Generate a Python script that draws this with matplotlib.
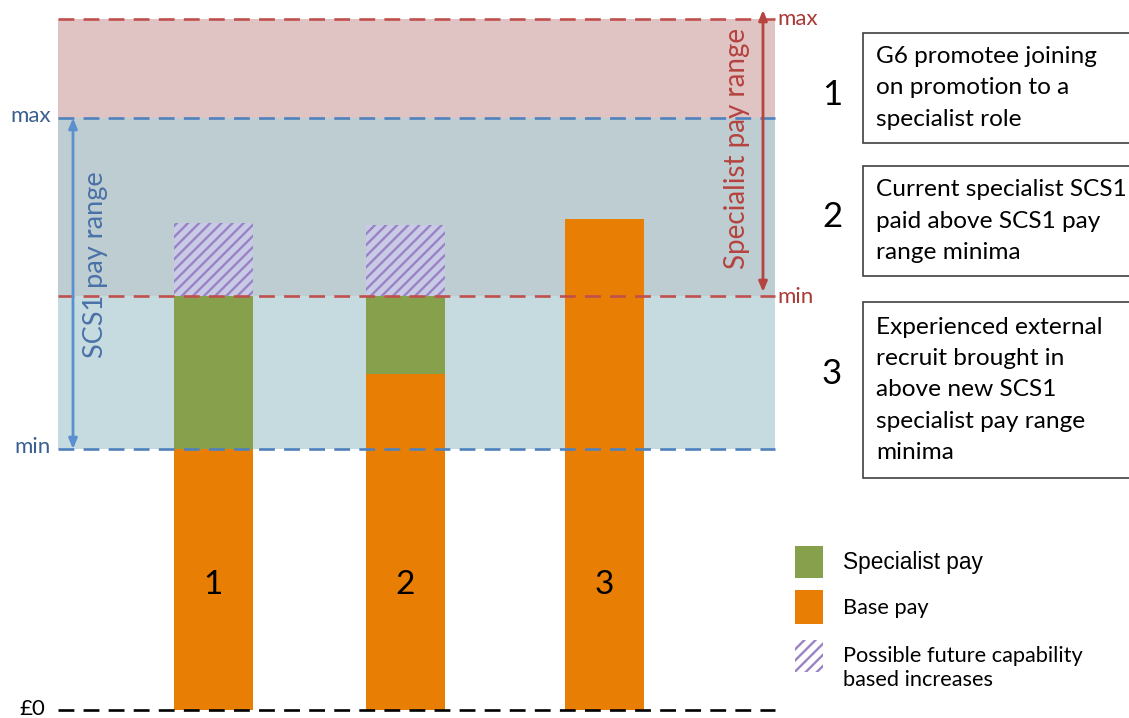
import matplotlib

matplotlib.use('Agg')
import matplotlib.pyplot as plt
from matplotlib.patches import Rectangle

# pay levels, measured upwards from £0
scs1_min = 261
scs1_max = 592
spec_min = 414
spec_max = 691

bar_labels = ['1', '2', '3']
base_pay = [261, 336, 491]
specialist_pay = [153, 78, 0]
future_increase = [73, 71, 0]

case_texts = [
    'G6 promotee joining\non promotion to a\nspecialist role',
    'Current specialist SCS1\npaid above SCS1 pay\nrange minima',
    'Experienced external\nrecruit brought in\nabove new SCS1\nspecialist pay range\nminima',
]
legend_labels = ['Specialist pay', 'Base pay',
                 'Possible future capability\nbased increases']

c_orange = '#e87e04'
c_green = '#86a04b'
c_red = '#c0504d'
c_blue = '#4f81bd'
c_hatch = '#9a83c4'
c_lav = '#c9cbe6'

plt.rcParams['font.family'] = ['Lato', 'DejaVu Sans']
plt.rcParams['hatch.linewidth'] = 1.7

fig = plt.figure(figsize=(11.29, 7.18), dpi=100)
ax = fig.add_axes([0, 0, 1, 1])
ax.set_xlim(0, 1129)
ax.set_ylim(-8, 710)
ax.axis('off')

x0, x1 = 58, 775
# pay range bands
ax.add_patch(Rectangle((x0, scs1_max), x1 - x0, spec_max - scs1_max, color='#e0c4c4', lw=0, zorder=0))
ax.add_patch(Rectangle((x0, spec_min), x1 - x0, scs1_max - spec_min, color='#bdcdd1', lw=0, zorder=0))
ax.add_patch(Rectangle((x0, scs1_min), x1 - x0, spec_min - scs1_min, color='#c6dbe0', lw=0, zorder=0))

# bars
xpos = [213.5, 405.5, 604]
width = 79
ax.bar(xpos, base_pay, width, color=c_orange, zorder=2)
ax.bar(xpos, specialist_pay, width, bottom=base_pay, color=c_green, zorder=2)
tops = [b + s for b, s in zip(base_pay, specialist_pay)]
has_fut = [f > 0 for f in future_increase]
ax.bar([x for x, h in zip(xpos, has_fut) if h],
       [f for f, h in zip(future_increase, has_fut) if h], width,
       bottom=[t for t, h in zip(tops, has_fut) if h], facecolor=c_lav,
       edgecolor=c_hatch, hatch='///', lw=0, zorder=2)
for x, lab in zip(xpos, bar_labels):
    ax.text(x, 125, lab, ha='center', va='center', fontsize=24, zorder=3)

# dashed level lines
dash = dict(ls=(0, (6, 3.5)), lw=1.9, zorder=4)
ax.plot([x0, x1], [spec_max] * 2, color=c_red, **dash)
ax.plot([x0, x1], [spec_min] * 2, color=c_red, **dash)
ax.plot([x0, x1], [scs1_max] * 2, color=c_blue, **dash)
ax.plot([x0, x1], [scs1_min] * 2, color=c_blue, **dash)
ax.plot([x0, x1], [0, 0], color='black', **dash)

ax.text(51, scs1_max + 2, 'max', ha='right', va='center', fontsize=16, color='#3b5f8f')
ax.text(51, scs1_min + 2, 'min', ha='right', va='center', fontsize=16, color='#3b5f8f')
ax.text(45, 1, '£0', ha='right', va='center', fontsize=16, color='black')
ax.text(777, spec_max, 'max', ha='left', va='center', fontsize=16, color='#a93a36')
ax.text(777, spec_min - 1, 'min', ha='left', va='center', fontsize=16, color='#a93a36')

# range arrows
ax.annotate('', xy=(73, scs1_min), xytext=(73, scs1_max),
            arrowprops=dict(arrowstyle='<|-|>,head_length=0.6,head_width=0.25',
                            color='#5b8fcf', lw=2, shrinkA=0, shrinkB=0), zorder=5)
ax.text(96, 445, 'SCS1 pay range', rotation=90,
        ha='center', va='center', fontsize=19.5, color='#4a72a8', zorder=5)
ax.annotate('', xy=(763, spec_min + 4), xytext=(763, spec_max + 9),
            arrowprops=dict(arrowstyle='<|-|>,head_length=0.6,head_width=0.25',
                            color='#b5433f', lw=2, shrinkA=0, shrinkB=0), zorder=5)
ax.text(737, 562, 'Specialist pay range', rotation=90,
        ha='center', va='center', fontsize=20, color='#b5433f', zorder=5)

# case boxes on the right
box_rows = [(33, 143), (166, 276), (302, 478)]
num_y = [95, 217, 374]
for (t, b), ny, txt, lab in zip(box_rows, num_y, case_texts, bar_labels):
    ax.add_patch(Rectangle((863, 710 - b), 300, b - t, fc='white', ec='#404040', lw=1.2))
    ax.text(832, 710 - ny, lab, ha='center', va='center', fontsize=25)
    ax.text(876, 710 - (t + b) / 2, txt, ha='left', va='center', fontsize=17.6,
            linespacing=1.6)

# legend
leg_y = [562, 608, 656]
for i, (yy, lab) in enumerate(zip(leg_y, legend_labels)):
    if i == 0:
        ax.add_patch(Rectangle((795, 710 - yy - 16), 28, 32, color=c_green, lw=0))
    elif i == 1:
        ax.add_patch(Rectangle((795, 710 - yy - 16), 28, 34, color=c_orange, lw=0))
    else:
        ax.add_patch(Rectangle((795, 710 - yy - 16), 28, 32, facecolor='white',
                               edgecolor=c_hatch, hatch='///', lw=0))
    fam = ['Liberation Sans'] if i == 0 else ['Lato']
    size = 16.3 if i == 0 else 15.7
    ax.text(843, 710 - yy - (12 if i == 2 else 0), lab, ha='left', va='center',
            fontsize=size, family=fam, linespacing=1.3)

fig.savefig('out.png', dpi=100)
